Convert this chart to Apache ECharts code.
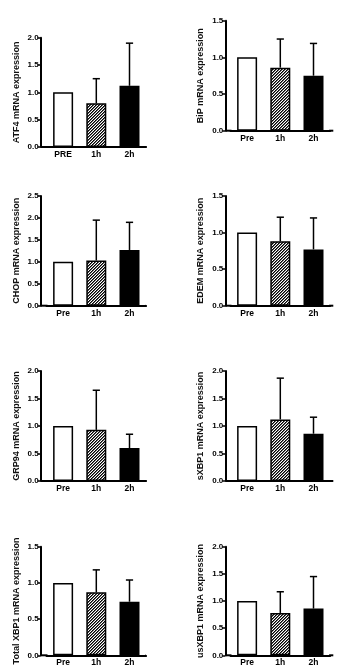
<!DOCTYPE html>
<html><head><meta charset="utf-8">
<script src="https://cdn.jsdelivr.net/npm/echarts@6/dist/echarts.min.js"></script>
<style>html,body{margin:0;padding:0;background:#fff}#c{width:337px;height:669px}</style>
</head><body><div id="c"></div>
<script>
// ---- data ----
const catsPRE = ['PRE', '1h', '2h'];
const catsPre = ['Pre', '1h', '2h'];

const atf4Mean = [1.00, 0.80, 1.12];
const atf4Sd   = [0, 0.45, 0.78];
const bipMean  = [1.00, 0.86, 0.75];
const bipSd    = [0, 0.39, 0.44];
const chopMean = [1.00, 1.03, 1.27];
const chopSd   = [0, 0.92, 0.63];
const edemMean = [1.00, 0.88, 0.77];
const edemSd   = [0, 0.33, 0.43];
const grp94Mean = [1.00, 0.93, 0.60];
const grp94Sd   = [0, 0.72, 0.25];
const sxbp1Mean = [1.00, 1.12, 0.86];
const sxbp1Sd   = [0, 0.75, 0.30];
const txbp1Mean = [1.00, 0.87, 0.74];
const txbp1Sd   = [0, 0.31, 0.30];
const usxbp1Mean = [1.00, 0.78, 0.86];
const usxbp1Sd   = [0, 0.39, 0.59];

const yNames = ['ATF4 mRNA expression', 'BiP mRNA expression', 'CHOP mRNA expression', 'EDEM mRNA expression',
  'GRP94 mRNA expression', 'sXBP1 mRNA expression', 'Total XBP1 mRNA expression', 'usXBP1 mRNA expression'];
const yMax = [2.0, 1.5, 2.5, 1.5, 2.0, 2.0, 1.5, 2.0];
const yStep = 0.5;

const panels = [
  {cats: catsPRE, mean: atf4Mean, sd: atf4Sd},
  {cats: catsPre, mean: bipMean, sd: bipSd},
  {cats: catsPre, mean: chopMean, sd: chopSd},
  {cats: catsPre, mean: edemMean, sd: edemSd},
  {cats: catsPre, mean: grp94Mean, sd: grp94Sd},
  {cats: catsPre, mean: sxbp1Mean, sd: sxbp1Sd},
  {cats: catsPre, mean: txbp1Mean, sd: txbp1Sd},
  {cats: catsPre, mean: usxbp1Mean, sd: usxbp1Sd}
];

// ---- layout (pixels) ----
const cols = [
  {axisX: 40.7, left: 46.5, width: 99.6, xEnd: 145.5},
  {axisX: 225.3, left: 230.5, width: 99.6, xEnd: 333.3}
];
const rows = [
  [{top: 37.7, bottom: 147}, {top: 20.7, bottom: 130.7}],
  [{top: 196, bottom: 305.7}, {top: 196, bottom: 305.7}],
  [{top: 371, bottom: 481}, {top: 371, bottom: 481}],
  [{top: 546.7, bottom: 655.3}, {top: 546.7, bottom: 655.3}]
];

// hatch pattern
function makeHatch() {
  const s = 3;
  const cv = document.createElement('canvas');
  cv.width = s; cv.height = s;
  const ctx = cv.getContext('2d');
  ctx.fillStyle = '#fff';
  ctx.fillRect(0, 0, s, s);
  ctx.fillStyle = '#000';
  for (let y = 0; y < s; y++) {
    const x = (s - 1 - y) % s;
    ctx.fillRect(x, y, 1, 1);
    ctx.fillRect((x + 1) % s, y, 0.6, 1);
  }
  return cv;
}
const hatch = {image: makeHatch(), repeat: 'repeat'};
const fills = ['#ffffff', hatch, '#000000'];

const FONT = 'Liberation Sans, Arial, sans-serif';
const grids = [], xAxes = [], yAxes = [], series = [], graphics = [];

panels.forEach((p, i) => {
  const col = cols[i % 2];
  const row = rows[Math.floor(i / 2)][i % 2];
  grids.push({left: col.left, top: row.top, width: col.width, height: row.bottom - row.top});
  xAxes.push({
    type: 'category', gridIndex: i, data: p.cats,
    axisLine: {lineStyle: {color: '#000', width: 2}},
    axisTick: {show: false},
    axisLabel: {color: '#000', fontFamily: FONT, fontWeight: 'bold', fontSize: 8.5, margin: 3}
  });
  yAxes.push({
    type: 'value', gridIndex: i, min: 0, max: yMax[i], interval: yStep,
    offset: col.left - col.axisX,
    name: yNames[i], nameLocation: 'middle', nameGap: 20, nameRotate: 90,
    nameTextStyle: {color: '#111', fontFamily: FONT, fontSize: 9, fontWeight: 'bold'},
    axisLine: {show: true, lineStyle: {color: '#000', width: 2}},
    axisTick: {show: true, length: 3, lineStyle: {color: '#000', width: 1.5}},
    axisLabel: {color: '#000', fontFamily: FONT, fontWeight: 'bold', fontSize: 8, margin: 2,
      formatter: v => v.toFixed(1)},
    splitLine: {show: false}
  });
  series.push({
    type: 'custom', xAxisIndex: i, yAxisIndex: i, z: 1,
    data: p.cats.map((c, k) => [k, p.mean[k], p.sd[k]]),
    renderItem: (params, api) => {
      const s = api.value(2);
      if (!s) return null;
      const a = api.coord([api.value(0), api.value(1)]);
      const b = api.coord([api.value(0), api.value(1) + s]);
      const st = {stroke: '#000', lineWidth: 1.5};
      return {type: 'group', children: [
        {type: 'line', shape: {x1: a[0], y1: a[1], x2: b[0], y2: b[1]}, style: st},
        {type: 'line', shape: {x1: b[0] - 3.6, y1: b[1], x2: b[0] + 3.6, y2: b[1]}, style: st}
      ]};
    }
  });
  series.push({
    type: 'bar', xAxisIndex: i, yAxisIndex: i, z: 2, barWidth: 20,
    data: p.mean.map((v, k) => ({value: v, itemStyle: {color: fills[k]}})),
    itemStyle: {borderColor: '#000', borderWidth: 1.5}
  });
  graphics.push({
    type: 'line', z: 100,
    shape: {x1: col.axisX, y1: row.bottom, x2: col.left + 1, y2: row.bottom},
    style: {stroke: '#000', lineWidth: 2}
  });
  graphics.push({
    type: 'line', z: 100,
    shape: {x1: col.left + col.width - 1, y1: row.bottom, x2: col.xEnd, y2: row.bottom},
    style: {stroke: '#000', lineWidth: 2}
  });
});

const chart = echarts.init(document.getElementById('c'), null, {renderer: 'canvas'});
chart.setOption({
  backgroundColor: '#fff', animation: false,
  grid: grids, xAxis: xAxes, yAxis: yAxes, series: series, graphic: graphics
});
</script></body></html>
